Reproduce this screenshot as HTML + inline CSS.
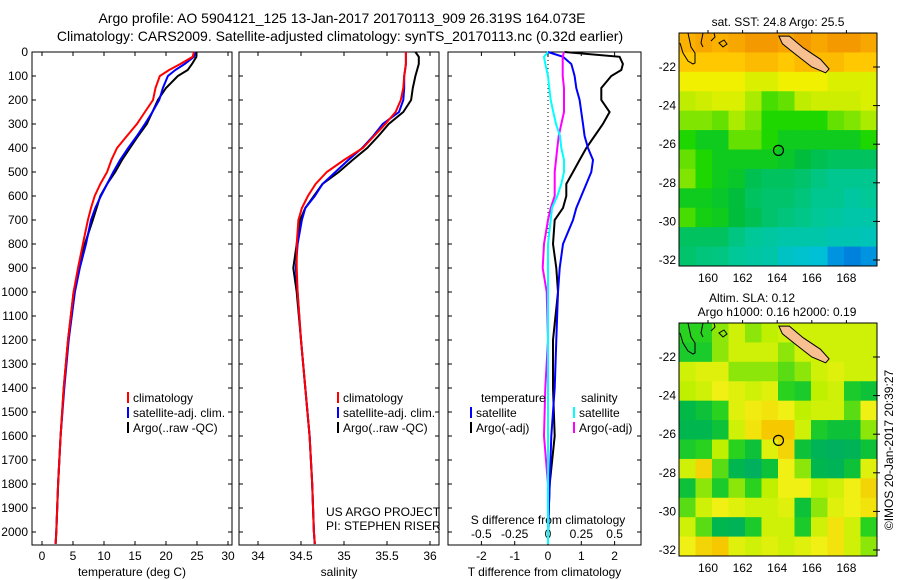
<!DOCTYPE html>
<html><head><meta charset="utf-8"><style>
body{margin:0;background:#fff;}
svg{display:block;font-family:"Liberation Sans",sans-serif;}
</style></head><body>
<svg id="c" width="900" height="580" viewBox="0 0 900 580"></svg>
<script>
const depths=[0,20,50,75,100,150,200,250,300,350,400,450,500,550,600,650,700,800,900,1000,1200,1400,1600,1800,2000,2050];
const tempClim=[24.5,24.3,22.3,20.5,19,18.3,17.9,16.6,15.3,13.7,12.1,11.2,10.5,9.4,8.5,7.9,7.4,6.6,5.8,5.1,4.2,3.5,3.0,2.6,2.3,2.2];
const tempSat=[24.7,24.5,23,21.5,20.3,19.5,18.9,17.8,16.6,15.3,13.9,12.6,11.5,10.5,9.5,8.6,7.9,7.1,6.1,5.3,4.3,3.6,3.0,2.6,2.3,2.2];
const tempArgo=[24.8,24.9,24.2,23.5,21.9,20,18.7,17.8,16.9,15.5,14.2,12.9,11.8,10.5,9.4,8.8,8.2,6.9,6.0,5.1,4.2,3.5,3.0,2.6,2.3,2.2];
const salClim=[35.72,35.72,35.72,35.71,35.7,35.69,35.66,35.6,35.48,35.35,35.22,35.0,34.8,34.67,34.58,34.51,34.47,34.45,34.45,34.46,34.5,34.55,34.6,34.63,34.65,34.66];
const salSat=[35.72,35.72,35.72,35.71,35.7,35.7,35.69,35.64,35.45,35.34,35.21,35.05,34.9,34.75,34.66,34.55,34.51,34.46,34.44,34.46,34.5,34.55,34.6,34.63,34.65,34.66];
const salArgo=[35.83,35.87,35.87,35.85,35.83,35.8,35.78,35.69,35.52,35.4,35.27,35.1,34.94,34.75,34.65,34.55,34.49,34.45,34.41,34.45,34.5,34.55,34.6,34.63,34.65,34.66];
const dTsat=[0,0.45,0.7,0.75,0.8,0.85,0.95,1.0,1.05,1.1,1.2,1.35,1.3,1.15,1.0,0.85,0.75,0.45,0.35,0.3,0.25,0.2,0.1,0.05,0,0];
const dTargo=[0.5,2.15,2.25,2.2,1.9,1.6,1.6,1.85,1.65,1.4,1.15,0.95,0.75,0.55,0.55,0.45,0.2,0.15,0.25,0.3,0.15,0.15,0.2,0.05,0,0];
const dSsat=[0,-0.03,-0.02,-0.01,0,0.01,0.02,0.04,0.06,0.09,0.1,0.12,0.12,0.1,0.07,0.03,0.02,0,0,0,0,0,0,0,0,0];
const dSargo=[0.12,0.11,0.11,0.11,0.11,0.12,0.12,0.12,0.1,0.08,0.07,0.06,0.05,0.05,0.05,0.02,0,-0.03,-0.04,-0.01,0,-0.02,-0.03,0,0,0];
const depthTicks=[0,100,200,300,400,500,600,700,800,900,1000,1100,1200,1300,1400,1500,1600,1700,1800,1900,2000];
const tTicks=[0,5,10,15,20,25,30];
const sTicks=[34,34.5,35,35.5,36];
const dTTicks=[-2,-1,0,1,2];
const dSTicks=[-0.5,-0.25,0,0.25,0.5];
const dSLabels=["-0.5","-0.25","0","0.25","0.5"];
const latTicks=[-22,-24,-26,-28,-30,-32];
const lonTicks=[160,162,164,166,168];
const sstGrid=[
[0.9,0.92,0.9,0.92,0.95,0.95,0.93,0.95,0.92,0.95,0.95,0.92],
[0.85,0.85,0.85,0.85,0.88,0.88,0.85,0.88,0.88,0.88,0.85,0.85],
[0.75,0.75,0.75,0.75,0.72,0.72,0.75,0.75,0.75,0.72,0.72,0.72],
[0.68,0.7,0.72,0.72,0.65,0.58,0.6,0.68,0.7,0.7,0.7,0.72],
[0.62,0.62,0.6,0.65,0.62,0.55,0.55,0.55,0.55,0.6,0.62,0.65],
[0.55,0.5,0.5,0.6,0.6,0.55,0.5,0.5,0.5,0.5,0.5,0.55],
[0.6,0.55,0.5,0.5,0.5,0.5,0.48,0.45,0.42,0.4,0.4,0.4],
[0.62,0.55,0.5,0.48,0.42,0.4,0.4,0.38,0.35,0.33,0.33,0.33],
[0.5,0.5,0.48,0.45,0.4,0.38,0.38,0.36,0.33,0.33,0.3,0.32],
[0.58,0.52,0.5,0.45,0.42,0.38,0.36,0.34,0.32,0.3,0.28,0.28],
[0.4,0.4,0.4,0.35,0.32,0.3,0.28,0.28,0.28,0.26,0.26,0.25],
[0.38,0.36,0.35,0.32,0.3,0.28,0.22,0.2,0.18,0.1,0.08,0.1]];
const slaGrid=[
[0.4,0.4,0.5,0.6,0.5,0.55,0.6,0.6,0.6,0.6,0.6,0.6],
[0.35,0.35,0.5,0.6,0.6,0.6,0.5,0.6,0.6,0.6,0.6,0.6],
[0.6,0.65,0.65,0.5,0.5,0.5,0.45,0.5,0.6,0.65,0.6,0.6],
[0.55,0.6,0.7,0.65,0.6,0.65,0.4,0.35,0.55,0.6,0.35,0.3],
[0.25,0.3,0.4,0.65,0.72,0.75,0.7,0.55,0.6,0.6,0.45,0.7],
[0.2,0.2,0.3,0.6,0.75,0.85,0.85,0.6,0.35,0.3,0.3,0.5],
[0.35,0.4,0.55,0.4,0.3,0.65,0.8,0.3,0.15,0.1,0.15,0.3],
[0.6,0.8,0.45,0.2,0.1,0.3,0.7,0.5,0.2,0.15,0.3,0.65],
[0.3,0.5,0.35,0.5,0.4,0.55,0.7,0.7,0.55,0.6,0.7,0.8],
[0.45,0.6,0.7,0.65,0.6,0.6,0.65,0.3,0.5,0.65,0.7,0.75],
[0.6,0.45,0.2,0.15,0.35,0.6,0.6,0.35,0.6,0.75,0.6,0.4],
[0.7,0.8,0.85,0.65,0.6,0.65,0.6,0.65,0.7,0.75,0.6,0.5]];
const argoLon=164.073, argoLat=-26.319;

const NS='http://www.w3.org/2000/svg';
const svg=document.getElementById('c');
function mk(tag,attrs,parent){const e=document.createElementNS(NS,tag);for(const k in attrs)e.setAttribute(k,attrs[k]);(parent||svg).appendChild(e);return e;}
function txt(x,y,s,anchor,size,parent){const t=mk('text',{x:x,y:y,'font-size':size||12,'text-anchor':anchor||'start',fill:'#000'},parent);t.textContent=s;return t;}

const TOP=52,BOT=545;
const yD=d=>TOP+d*0.24;
let t=txt(342,23,'Argo profile: AO 5904121_125 13-Jan-2017 20170113_909 26.319S 164.073E','middle',14);


t=txt(340,41,'Climatology: CARS2009. Satellite-adjusted climatology: synTS_20170113.nc (0.32d earlier)','middle',14);



function panel(name,x0,x1,xf,ticks,labels,xlabel,showY){
  const g=mk('g',{});
  
  
  mk('rect',{x:x0,y:TOP,width:x1-x0,height:BOT-TOP,fill:'#fff',stroke:'#000','stroke-width':1},g);
  ticks.forEach((v,i)=>{const x=xf(v);
    mk('line',{x1:x,x2:x,y1:BOT,y2:BOT-4,stroke:'#000'},g);
    mk('line',{x1:x,x2:x,y1:TOP,y2:TOP+4,stroke:'#000'},g);
    const l=txt(x,560,labels?labels[i]:String(v),'middle',12,g);
    
    
  });
  depthTicks.forEach(d=>{const y=yD(d);
    mk('line',{x1:x0,x2:x0+4,y1:y,y2:y,stroke:'#000'},g);
    mk('line',{x1:x1,x2:x1-4,y1:y,y2:y,stroke:'#000'},g);
    if(showY){const l=txt(28,y+4,String(d),'end',12,g);
      
      }
  });
  if(xlabel){const l=txt((x0+x1)/2,576,xlabel,'middle',12,g);
    
    }
  return g;
}
function line(g,vals,xf,color,w,name){
  const pts=vals.map((v,i)=>xf(v).toFixed(1)+','+yD(Math.min(depths[i],2050)).toFixed(1)).join(' ');
  const p=mk('polyline',{points:pts,fill:'none',stroke:color,'stroke-width':w||2,'stroke-linejoin':'miter'},g);
  
  
}
const xT=v=>42+v*6.2;
let g1=panel('temperature-panel',32,232,xT,tTicks,null,'temperature (deg C)',true);
line(g1,tempArgo,xT,'#000',2,'argo-temperature-line');
line(g1,tempSat,xT,'#0000ff',2,'satellite-temperature-line');
line(g1,tempClim,xT,'#ff0000',2,'climatology-temperature-line');
const xS=v=>258+(v-34)*86;
let g2=panel('salinity-panel',239,439,xS,sTicks,null,'salinity',false);
line(g2,salArgo,xS,'#000',2,'argo-salinity-line');
line(g2,salSat,xS,'#0000ff',2,'satellite-salinity-line');
line(g2,salClim,xS,'#ff0000',2,'climatology-salinity-line');
function legend(g,x,y,items){items.forEach((it,i)=>{
  const r=mk('rect',{x:x,y:y+i*15-10,width:2,height:11,fill:it[1]},g);
  
  
  const l=txt(x+6,y+i*15,it[0],'start',12,g);
  
  });}
legend(g1,127,402,[['climatology','#ff0000'],['satellite-adj. clim.','#0000ff'],['Argo(..raw -QC)','#000']]);
legend(g2,337,402,[['climatology','#ff0000'],['satellite-adj. clim.','#0000ff'],['Argo(..raw -QC)','#000']]);
t=txt(326,516,'US ARGO PROJECT','start',12,g2);

t=txt(326,530,'PI: STEPHEN RISER','start',12,g2);

const xdT=v=>548+v*33.3;
const xdS=v=>548+v*133.3;
let g3=panel('difference-panel',448,641,xdT,dTTicks,null,'T difference from climatology',false);
dSTicks.forEach((v,i)=>{const l=txt(xdS(v),538,dSLabels[i],'middle',12,g3);
  });
t=txt(548,524,'S difference from climatology','middle',12,g3);

let zl=mk('line',{x1:548,x2:548,y1:TOP,y2:BOT,stroke:'#000','stroke-dasharray':'1,3'},g3);

line(g3,dTargo,xdT,'#000',2,'argo-t-diff-line');
line(g3,dTsat,xdT,'#0000ff',2,'satellite-t-diff-line');
line(g3,dSargo,xdS,'#ff00ff',2,'argo-s-diff-line');
line(g3,dSsat,xdS,'#00ffff',2,'satellite-s-diff-line');
t=txt(481,402,'temperature','start',12,g3);
t=txt(581,402,'salinity','start',12,g3);
legend(g3,470,417,[['satellite','#0000ff'],['Argo(-adj)','#000']]);
legend(g3,573,417,[['satellite','#00ffff'],['Argo(-adj)','#ff00ff']]);

function lerpC(stops,v){v=Math.max(0,Math.min(1,v));for(let i=1;i<stops.length;i++){if(v<=stops[i][0]){const a=stops[i-1],b=stops[i];const f=(v-a[0])/(b[0]-a[0]||1);return 'rgb('+[0,1,2].map(k=>Math.round(a[1][k]+(b[1][k]-a[1][k])*f)).join(',')+')';}}return 'rgb('+stops[stops.length-1][1].join(',')+')';}
const sstStops=[[0,[0,60,210]],[0.15,[0,190,230]],[0.32,[0,200,150]],[0.45,[0,190,60]],[0.55,[30,215,0]],[0.65,[170,235,0]],[0.75,[240,240,0]],[0.85,[255,200,0]],[1,[240,130,0]]];
const slaStops=[[0,[0,170,110]],[0.25,[0,185,70]],[0.4,[40,210,30]],[0.55,[190,240,0]],[0.7,[240,240,20]],[0.85,[245,200,0]],[1,[240,160,0]]];
function map(name,top,grid,stops,labels){
  const L=679,R=877,B=top+233;
  const lonX=lo=>708+(lo-160)*17.3;
  const latY=la=>top+34+(-22-la)*19.3;
  const g=mk('g',{});
  
  
  const cw=(R-L)/grid[0].length, ch=(B-top)/grid.length;
  grid.forEach((row,r)=>row.forEach((v,c)=>{
    const cell=mk('rect',{x:(L+c*cw).toFixed(2),y:(top+r*ch).toFixed(2),width:(cw+0.5).toFixed(2),height:(ch+0.5).toFixed(2),fill:lerpC(stops,v)},g);
    
    
  }));
  const isl=mk('polygon',{points:[[164.1,-20.4],[164.7,-20.4],[165.5,-21.0],[166.5,-21.6],[167,-22.1],[166.8,-22.3],[166,-22.0],[165,-21.3],[164.3,-20.8]].map(p=>lonX(p[0]).toFixed(1)+','+latY(p[1]).toFixed(1)).join(' '),fill:'#f8c090',stroke:'#000','stroke-width':1},g);
  
  const co=mk('path',{d:'M'+(L+1)+','+(top+10)+' l3,10 l5,8 l5,3 l2,-1 l0,-10 l-4,-6 l-3,-14 M'+(L+24)+','+(top)+' l-2,10 l2,4 M'+(L+32)+','+(top+8)+' l4,-4 l-1,-4 M'+(L+40)+','+(top+10)+' l4,4 l4,-3 l-3,-4 z',fill:'none',stroke:'#000','stroke-width':1},g);
  
  const ci=mk('circle',{cx:lonX(argoLon),cy:latY(argoLat),r:5,fill:'none',stroke:'#000','stroke-width':1.2},g);
  
  mk('rect',{x:L,y:top,width:R-L,height:B-top,fill:'none',stroke:'#000'},g);
  latTicks.forEach(la=>{const y=latY(la);
    mk('line',{x1:R,x2:R-4,y1:y,y2:y,stroke:'#000'},g);
    mk('line',{x1:R,x2:R+3,y1:y,y2:y,stroke:'#000'},g);
    const l=txt(676,y+4,String(la),'end',12,g);
    });
  lonTicks.forEach(lo=>{const x=lonX(lo);
    mk('line',{x1:x,x2:x,y1:top,y2:top-3,stroke:'#000'},g);
    const l=txt(x,B+16,String(lo),'middle',12,g);
    });
  labels.forEach(s=>{const l=txt(s[0],s[1],s[2],'middle',12,g);
    });
}
map('sst-map',33,sstGrid,sstStops,[[778,26,'sat. SST: 24.8 Argo: 25.5']]);
map('sla-map',323,slaGrid,slaStops,[[752,302,'Altim. SLA: 0.12'],[777,316,'Argo h1000: 0.16 h2000: 0.19']]);
t=txt(0,0,'©IMOS 20-Jan-2017 20:39:27','middle',12);
t.setAttribute('transform','translate(893,450) rotate(-90)');


</script>
</body></html>
